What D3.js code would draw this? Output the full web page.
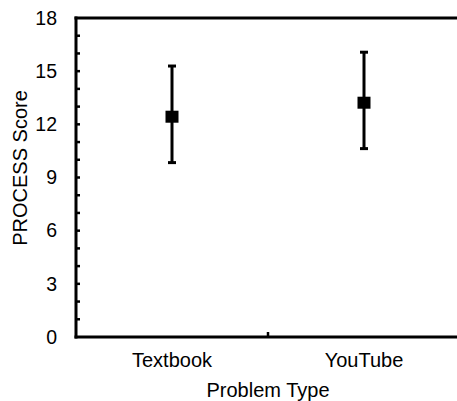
<!DOCTYPE html>
<html>
<head>
<meta charset="utf-8">
<script src="https://cdn.jsdelivr.net/npm/d3@7"></script>
<style>
  html, body { margin: 0; padding: 0; background: #fff; }
  svg { display: block; font-family: "Liberation Sans", Arial, sans-serif; }
</style>
</head>
<body>
<svg id="chart" width="457" height="401"></svg>
<script>
// data
const categories = ['Textbook', 'YouTube'];
const means = [12.43, 13.22];
const lower = [9.84, 10.63];
const upper = [15.29, 16.07];
const yTicks = [0, 3, 6, 9, 12, 15, 18];

const width = 457, height = 401;
const plotLeft = 76, plotRight = 460, plotTop = 18, plotBottom = 337;

const svg = d3.select('#chart');

const x = d3.scaleBand().domain(categories).range([plotLeft, plotRight]).paddingInner(0).paddingOuter(0);
const y = d3.scaleLinear().domain([0, 18]).range([plotBottom, plotTop]);

// minor ticks, every unit, inside the plot
svg.append('g')
  .selectAll('line')
  .data(d3.range(1, 18))
  .join('line')
  .attr('x1', plotLeft).attr('x2', plotLeft + 4)
  .attr('y1', d => y(d)).attr('y2', d => y(d))
  .attr('stroke', '#000').attr('stroke-width', 2.5);

// y axis
const yAxis = svg.append('g')
  .attr('transform', `translate(${plotLeft},0)`)
  .call(d3.axisLeft(y).tickValues(yTicks).tickSize(0).tickPadding(19));
yAxis.select('.domain').remove();
yAxis.selectAll('text')
  .attr('font-size', 19.5)
  .attr('font-family', '"Liberation Sans", Arial, sans-serif')
  .attr('fill', '#000');

// axis lines
svg.append('line')
  .attr('x1', plotLeft).attr('x2', plotLeft)
  .attr('y1', plotTop - 1.5).attr('y2', plotBottom + 1.5)
  .attr('stroke', '#000').attr('stroke-width', 3);
svg.append('line')
  .attr('x1', plotLeft - 1.5).attr('x2', width)
  .attr('y1', plotBottom).attr('y2', plotBottom)
  .attr('stroke', '#000').attr('stroke-width', 3);
svg.append('line')
  .attr('x1', plotLeft - 1.5).attr('x2', width)
  .attr('y1', plotTop).attr('y2', plotTop)
  .attr('stroke', '#000').attr('stroke-width', 3);

// divider tick between categories
svg.append('g')
  .selectAll('line')
  .data(categories.slice(1))
  .join('line')
  .attr('x1', d => x(d)).attr('x2', d => x(d))
  .attr('y1', plotBottom).attr('y2', plotBottom - 5)
  .attr('stroke', '#000').attr('stroke-width', 2.5);

// x labels
svg.append('g')
  .selectAll('text')
  .data(categories)
  .join('text')
  .attr('x', d => x(d) + x.bandwidth() / 2)
  .attr('y', 367)
  .attr('text-anchor', 'middle')
  .attr('font-size', 20)
  .text(d => d);

// axis titles
svg.append('text')
  .attr('x', 268).attr('y', 397)
  .attr('text-anchor', 'middle')
  .attr('font-size', 20)
  .text('Problem Type');
svg.append('text')
  .attr('transform', 'translate(27,168) rotate(-90)')
  .attr('text-anchor', 'middle')
  .attr('font-size', 20)
  .text('PROCESS Score');

// error bars
const cx = (d, i) => x(categories[i]) + x.bandwidth() / 2;
const bars = svg.append('g')
  .selectAll('g')
  .data(means)
  .join('g');

bars.append('line')
  .attr('x1', cx).attr('x2', cx)
  .attr('y1', (d, i) => y(upper[i])).attr('y2', (d, i) => y(lower[i]))
  .attr('stroke', '#000').attr('stroke-width', 3);
bars.append('line')
  .attr('x1', (d, i) => cx(d, i) - 4).attr('x2', (d, i) => cx(d, i) + 4)
  .attr('y1', (d, i) => y(upper[i])).attr('y2', (d, i) => y(upper[i]))
  .attr('stroke', '#000').attr('stroke-width', 3);
bars.append('line')
  .attr('x1', (d, i) => cx(d, i) - 4).attr('x2', (d, i) => cx(d, i) + 4)
  .attr('y1', (d, i) => y(lower[i])).attr('y2', (d, i) => y(lower[i]))
  .attr('stroke', '#000').attr('stroke-width', 3);
bars.append('rect')
  .attr('x', (d, i) => cx(d, i) - 6.5)
  .attr('y', d => y(d) - 6)
  .attr('width', 13).attr('height', 12)
  .attr('fill', '#000');
</script>
</body>
</html>
